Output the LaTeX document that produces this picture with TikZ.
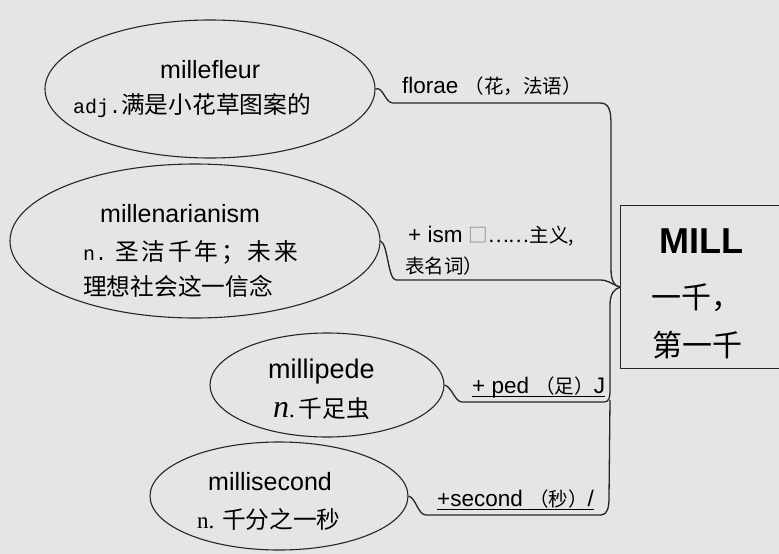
\documentclass[tikz,border=0pt]{standalone}
\usepackage{fontspec}
\setmainfont{Liberation Sans}
\newfontfamily\cjk{Noto Sans CJK SC}
\newfontfamily\cjkwide{Noto Sans CJK SC}[LetterSpace=12]
\newfontfamily\mono{Liberation Mono}
\newfontfamily\serif{Liberation Serif}
\usetikzlibrary{shapes.geometric}

\definecolor{bggray}{RGB}{229,229,229}
\newcommand\zhs[1]{{\cjk\fontsize{19.5}{21}\selectfont #1}}

\begin{document}
\begin{tikzpicture}[
    x=1pt, y=-1pt,
    bubble/.style={ellipse, draw=black!85, line width=1.1pt, inner sep=0pt},
    word/.style={inner sep=0pt, anchor=base west, font=\fontsize{25}{28}\selectfont},
    gloss/.style={inner sep=0pt, anchor=base west, font=\cjk\fontsize{23.7}{26}\selectfont},
    affix/.style={inner sep=0pt, anchor=base west, font=\fontsize{22.5}{24}\selectfont},
    link/.style={draw=black!85, line width=1.3pt},
]

% === Background ===
\fill[bggray] (0,0) rectangle (779,554);
\useasboundingbox (0,0) rectangle (779,554);

% === RIGHT: root box ===
\node[draw=black!85, line width=1.4pt, anchor=north west, minimum width=180, minimum height=163] (mill) at (620,205) {};
\node[inner sep=0pt, anchor=base west, font=\fontsize{36}{40}\selectfont\bfseries] (millword) at (659,253) {MILL};
\node[inner sep=0pt, anchor=west, font=\cjk\fontsize{30}{32}\selectfont] (millzh1) at (651,298) {一千，};
\node[inner sep=0pt, anchor=west, font=\cjk\fontsize{30}{32}\selectfont] (millzh2) at (652,345) {第一千};

% === LEFT: word bubbles ===
\node[bubble, minimum width=330, minimum height=138] (e1) at (210,89) {};
\node[bubble, minimum width=370, minimum height=154] (e2) at (195,241) {};
\node[bubble, minimum width=234, minimum height=104] (e3) at (327,385) {};
\node[bubble, minimum width=258, minimum height=108] (e4) at (279,496) {};

% Words
\node[word] (w1) at (160,78) {millefleur};
\node[word] (w2) at (100,222) {millenarianism};
\node[word, font=\fontsize{27}{30}\selectfont] (w3) at (268,378) {millipede};
\node[word] (w4) at (208,490) {millisecond};

% Meanings
\node[gloss] (g1) at (73,113) {{\mono\fontsize{20}{22}\selectfont adj.}满是小花草图案的};
\node[gloss] (g2a) at (83,260) {{\mono\fontsize{20}{22}\selectfont n.}\hspace{8pt}{\cjkwide 圣洁千年；未来}};
\node[gloss] (g2b) at (83,295) {理想社会这一信念};
\node[gloss] (g3) at (273,417) {{\serif\itshape\fontsize{32}{32}\selectfont n}{\serif\fontsize{23}{26}\selectfont .}\,千足虫};
\node[gloss] (g4) at (197,528) {{\serif\fontsize{23}{26}\selectfont n. }千分之一秒};

% === Affix labels ===
\node[affix] (a1) at (402,93) {florae \zhs{（花，法语）}};
\node[affix] (a2) at (408,242) {+ ism \zhs{\textcolor{black!50}{□}……主义,}};
\node[affix] (a2b) at (405,273) {\zhs{表名词）}};
\node[affix] (a3) at (472,393) {+ ped \zhs{（足）}J};
\node[affix] (a4) at (437,506) {+second \zhs{（秒）}/};

% Underlines
\draw[line width=1pt] ([yshift=-3pt]a3.base west) -- ([yshift=-3pt]a3.base east);
\draw[line width=1pt] ([yshift=-3pt]a4.base west) -- ([yshift=-3pt]a4.base east);

% === Connectors ===
\draw[link] (e1.east) .. controls (383,86) and (385,103) .. (393,103) -- (600,103)
    .. controls (609,103) and (611,110) .. (611,125) -- (611,268)
    .. controls (611,281) and (614,286) .. (mill.west);
\draw[link] (e2.east) .. controls (388,244) and (388,280) .. (396,280) -- (600,280)
    .. controls (608,280) and (612,284) .. (mill.west);
\draw[link] (e3.east) .. controls (452,387) and (455,402) .. (462,402) -- (604,402)
    .. controls (609,402) and (610,398) .. (610,390) -- (610,305)
    .. controls (610,294) and (614,289) .. (mill.west);
\draw[link] (e4.east) .. controls (416,498) and (418,515) .. (426,515) -- (601,515)
    .. controls (607,515) and (609,508) .. (609,498) -- (610,400);

\end{tikzpicture}
\end{document}
